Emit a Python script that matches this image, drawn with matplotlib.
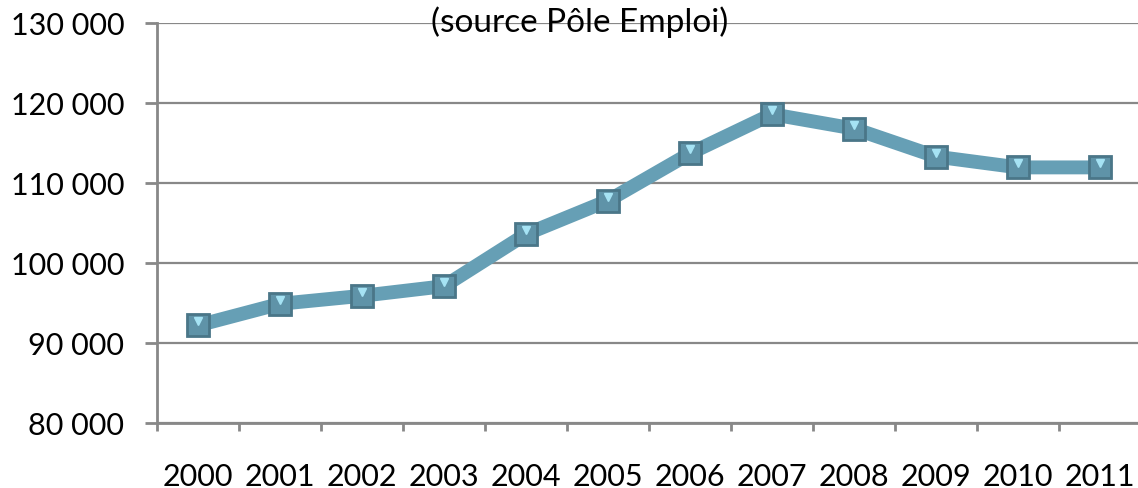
import matplotlib
matplotlib.use('Agg')
import matplotlib.pyplot as plt
from matplotlib.ticker import FuncFormatter, FixedLocator

years = ['2000', '2001', '2002', '2003', '2004', '2005',
         '2006', '2007', '2008', '2009', '2010', '2011']
values = [92200, 94900, 95900, 97100, 103600, 107800,
          113700, 118600, 116800, 113300, 111950, 111950]
source_text = '(source Pôle Emploi)'

GRAY = '#888888'
LINE = '#669fb5'

plt.rcParams['font.family'] = ['Lato', 'DejaVu Sans']

fig = plt.figure(figsize=(11.38, 4.89), dpi=100)
ax = fig.add_axes([157 / 1138, 1 - 424 / 489, 984 / 1138, 400 / 489])

x = list(range(len(years)))
ax.plot(x, values, color=LINE, linewidth=10, solid_joinstyle='round', zorder=3)
ax.plot(x, values, linestyle='none', marker='s', markersize=15.5,
        markerfacecolor='#5f93a8', markeredgecolor='#4a7688', markeredgewidth=2, zorder=4)
# little highlight on top of each marker
ax.plot(x, [v + 500 for v in values], linestyle='none', marker='v', markersize=6,
        color='#a6e3f4', zorder=5)

ax.set_xlim(-0.5, len(years) - 0.5)
ax.set_ylim(80000, 130000)
ax.set_yticks(range(80000, 130001, 10000))
ax.yaxis.set_major_formatter(FuncFormatter(lambda v, p: f'{int(v):,}'.replace(',', ' ')))

# category boundaries as tick marks, labels in between
ax.xaxis.set_major_locator(FixedLocator([i - 0.5 for i in range(len(years) + 1)]))
ax.xaxis.set_minor_locator(FixedLocator(x))
ax.set_xticklabels([])
ax.set_xticklabels(years, minor=True)
ax.tick_params(axis='x', which='major', length=6, width=2, color=GRAY)
ax.tick_params(axis='x', which='minor', length=0, pad=28, labelsize=22)
ax.tick_params(axis='y', length=8.6, width=2, color=GRAY, pad=15, labelsize=22)

ax.grid(axis='y', color=GRAY, linewidth=1.6)
ax.set_axisbelow(True)
for s in ['top', 'right']:
    ax.spines[s].set_visible(False)
for s in ['left', 'bottom']:
    ax.spines[s].set_color(GRAY)
    ax.spines[s].set_linewidth(2)

ax.text(0.43, 1.005, source_text, transform=ax.transAxes, ha='center', va='center',
        fontsize=24, zorder=6)

fig.savefig('out.png', dpi=100)
